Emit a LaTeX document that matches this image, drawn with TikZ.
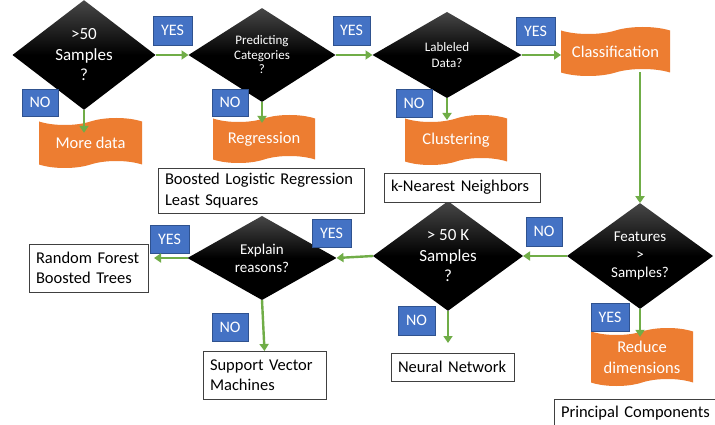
\documentclass[tikz,border=0pt]{standalone}
\usepackage{fontspec}
\setmainfont{Carlito}
\usetikzlibrary{shapes.geometric,shapes.symbols,arrows.meta}
\definecolor{bluebox}{HTML}{4472C4}
\definecolor{blueedge}{HTML}{2F528F}
\definecolor{orangebox}{HTML}{ED7D31}
\definecolor{greenline}{HTML}{70AD47}
\definecolor{boxedge}{HTML}{404040}
\begin{document}
\begin{tikzpicture}[x=1pt,y=-1pt,
  decision/.style={diamond, inner sep=0pt, outer sep=0pt, top color=black!72, bottom color=black, middle color=black, text=white, align=center},
  answer/.style={rectangle, fill=bluebox, draw=blueedge, line width=0.8pt, text=white, font=\fontsize{16}{18}\selectfont, minimum width=37pt, minimum height=28pt, inner sep=0pt},
  result/.style={tape, tape bend top=in and out, tape bend bottom=in and out, tape bend height=7pt, fill=orangebox, text=white, align=center, font=\fontsize{16.5}{21}\selectfont, inner sep=0pt, outer sep=0pt},
  method/.style={rectangle, draw=boxedge, line width=0.8pt, fill=white, align=left, font=\fontsize{16.5}{20.5}\selectfont, inner xsep=7pt, inner ysep=0pt, outer sep=0pt},
  flow/.style={draw=greenline, line width=2.4pt, -{Triangle[length=7pt,width=9pt]}}
]
\useasboundingbox (0,0) rectangle (715,425);
\clip (0,0) rectangle (715,425);
\fill[white] (0,0) rectangle (715,425);

% decisions
\node[decision, minimum width=143pt, minimum height=85pt, font=\fontsize{17}{20.5}\selectfont] (d1) at (84,55) {>50\\Samples\\?};
\node[decision, minimum width=147pt, minimum height=85pt, font=\fontsize{13}{14.5}\selectfont] (d2) at (262,55) {Predicting\\Categories\\?};
\node[decision, minimum width=149pt, minimum height=86pt, font=\fontsize{13}{16}\selectfont] (d3) at (447,55) {Lableled\\Data?};
\node[decision, minimum width=146pt, minimum height=86pt, font=\fontsize{15}{18}\selectfont] (d4) at (640,256) {Features\\>\\Samples?};
\node[decision, minimum width=150pt, minimum height=86pt, font=\fontsize{17}{20.5}\selectfont] (d5) at (448,256) {> 50 K\\Samples\\?};
\node[decision, minimum width=149pt, minimum height=84pt, font=\fontsize{15}{18}\selectfont] (d6) at (262,258) {Explain\\reasons?};

% results
\node[result, minimum width=103pt, minimum height=50pt] (more) at (90.5,143) {More data};
\node[result, minimum width=102pt, minimum height=48pt] (regr) at (264,139) {Regression};
\node[result, minimum width=102pt, minimum height=50pt] (clus) at (456,140) {Clustering};
\node[result, minimum width=109pt, minimum height=49pt] (class) at (615.5,51.5) {Classification};
\node[result, minimum width=102pt, minimum height=58pt] (reduce) at (642,357) {Reduce\\dimensions};

% methods
\node[method, text width=192pt, minimum height=45pt] (boost) at (261,190.5) {Boosted Logistic Regression\\Least Squares};
\node[method, text width=142pt, minimum height=29pt] (knn) at (462,187.5) {k-Nearest Neighbors};
\node[method, text width=105pt, minimum height=48pt] (rf) at (88.5,268) {Random Forest\\Boosted Trees};
\node[method, text width=109pt, minimum height=48pt] (svm) at (264.5,375) {Support Vector\\Machines};
\node[method, text width=109pt, minimum height=28pt] (nn) at (452.5,367) {Neural Network};
\node[method, anchor=north west, text width=170pt, text height=18pt, text depth=20pt] (pc) at (554,399) {Principal Components};

% answers
\node[answer, minimum width=39pt, minimum height=29pt] (y1) at (172.5,30.5) {YES};
\node[answer, minimum width=37pt, minimum height=29pt] (y2) at (351.5,30.5) {YES};
\node[answer, minimum width=39pt, minimum height=28pt] (y3) at (535.5,31) {YES};
\node[answer, minimum width=36pt, minimum height=27pt] (n1) at (40,102.5) {NO};
\node[answer, minimum width=36pt, minimum height=27pt] (n2) at (230,102.5) {NO};
\node[answer, minimum width=36pt, minimum height=28pt] (n3) at (414,103) {NO};
\node[answer, minimum width=36pt, minimum height=29pt] (nf) at (544,231.5) {NO};
\node[answer, minimum width=37pt, minimum height=29pt] (n5) at (416.5,320.5) {NO};
\node[answer, minimum width=38pt, minimum height=28pt] (yf) at (610,317) {YES};
\node[answer, minimum width=39pt, minimum height=28pt] (ye) at (331.5,233) {YES};
\node[answer, minimum width=39pt, minimum height=28pt] (yl) at (169.5,239) {YES};
\node[answer, minimum width=36pt, minimum height=28pt] (ne) at (230,327) {NO};

% connectors
\draw[flow] (d1.east) -- (d2.west);
\draw[flow] (d2.east) -- (d3.west);
\draw[flow] (d3.east) -- (d3.east -| class.west);
\draw[flow] (d1.south) -- ++(0,23);
\draw[flow] (d2.south) -- ++(0,21);
\draw[flow] (d3.south) -- ++(0,22);
\draw[flow] (d4.north |- class.south) -- (d4.north);
\draw[flow] (d4.west) -- (d5.east);
\draw[flow] (d5.west) -- (d6.east);
\draw[flow, shorten >=6pt] (d6.west) -- (rf.east |- d6.west);
\draw[flow] (d6.south) -- (svm.north);
\draw[flow, shorten >=10pt] (d5.south) -- (d5.south |- nn.north);
\draw[flow] (d4.south) -- ++(0,28);
\end{tikzpicture}
\end{document}
